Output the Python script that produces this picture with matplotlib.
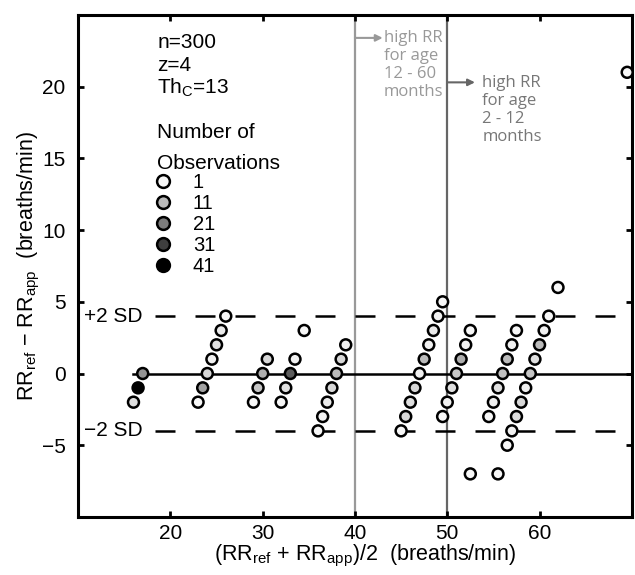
import matplotlib
matplotlib.use("Agg")
import matplotlib.pyplot as plt
import numpy as np
from matplotlib.lines import Line2D

plt.rcParams['font.family'] = ['Liberation Sans', 'DejaVu Sans']

# mean of the two rates, difference, number of observations at each point
x_mean = [16, 16.5, 17,
          23, 23.5, 24, 24.5, 25, 25.5, 26,
          29, 29.5, 30, 30.5,
          32, 32.5, 33, 33.5, 34.5,
          36, 36.5, 37, 37.5, 38, 38.5, 39,
          45, 45.5, 46, 46.5, 47, 47.5, 48, 48.5, 49, 49.5,
          49.5, 50, 50.5, 51, 51.5, 52, 52.5,
          54.5, 55, 55.5, 56, 56.5, 57, 57.5,
          52.5, 55.5, 56.5, 57, 57.5, 58, 58.5, 59, 59.5, 60, 60.5, 61,
          62, 69.5]
y_diff = [-2, -1, 0,
          -2, -1, 0, 1, 2, 3, 4,
          -2, -1, 0, 1,
          -2, -1, 0, 1, 3,
          -4, -3, -2, -1, 0, 1, 2,
          -4, -3, -2, -1, 0, 1, 2, 3, 4, 5,
          -3, -2, -1, 0, 1, 2, 3,
          -3, -2, -1, 0, 1, 2, 3,
          -7, -7, -5, -4, -3, -2, -1, 0, 1, 2, 3, 4,
          6, 21]
n_obs = [5, 41, 17,
         1, 15, 6, 2, 5, 3, 1,
         1, 9, 13, 6,
         1, 5, 26, 2, 1,
         1, 2, 3, 6, 11, 6, 2,
         1, 6, 5, 6, 2, 11, 2, 3, 2, 1,
         1, 2, 5, 9, 13, 2, 1,
         1, 2, 5, 10, 11, 2, 1,
         1, 1, 1, 2, 5, 6, 2, 9, 5, 11, 2, 1,
         1, 1]

legend_counts = [1, 11, 21, 31, 41]
sd_limits = [4, -4]
sd_labels = ["+2 SD", "\u22122 SD"]
age_lines = [40, 50]


def face(n):
    g = 0.97 * (1 - (min(n, 41) - 1) / 40.0)
    return (g, g, g)


fig = plt.figure(figsize=(6.35, 5.75), dpi=100)
ax = fig.add_axes([0.123, 0.101, 0.872, 0.873])
ax.set_xlim(10, 70)
ax.set_ylim(-10, 25)

# reference lines
ax.axvline(age_lines[0], color="#999999", lw=1.6, zorder=1)
ax.axvline(age_lines[1], color="#666666", lw=1.6, zorder=1)
ax.plot([min(x_mean), 70], [0, 0], color="black", lw=1.8, zorder=2)
for lim, lab in zip(sd_limits, sd_labels):
    ax.plot([18.3, 70], [lim, lim], color="black", lw=1.8,
            linestyle=(0, (8, 8)), zorder=2)
    ax.text(10.6, lim, lab, fontsize=15, va="center", ha="left")

ax.scatter(x_mean, y_diff, s=62, c=[face(n) for n in n_obs],
           edgecolors="black", linewidths=1.8, zorder=3, clip_on=False)

# annotations for the age-specific high RR limits
ax.annotate("", xy=(43.0, 23.4), xytext=(40, 23.4),
            arrowprops=dict(arrowstyle="-|>", color="#999999", lw=1.5,
                            shrinkA=0, shrinkB=0))
ax.text(43.1, 23.97, "high RR\nfor age\n12 - 60\nmonths", color="#999999",
        fontsize=12, va="top", ha="left", family="Open Sans",
        linespacing=1.17)
ax.annotate("", xy=(53.0, 20.3), xytext=(50, 20.3),
            arrowprops=dict(arrowstyle="-|>", color="#666666", lw=1.5,
                            shrinkA=0, shrinkB=0))
ax.text(53.8, 20.8, "high RR\nfor age\n2 - 12\nmonths", color="#777777",
        fontsize=12, va="top", ha="left", family="Open Sans",
        linespacing=1.17)

# info text
ax.text(0.1426, 0.946, "n=300", transform=ax.transAxes, fontsize=15, va="center")
ax.text(0.1426, 0.900, "z=4", transform=ax.transAxes, fontsize=15, va="center")
ax.text(0.1426, 0.855, "Th$_\\mathregular{C}$=13", transform=ax.transAxes,
        fontsize=15, va="center")
ax.text(0.1426, 0.735, "Number of\nObservations", transform=ax.transAxes,
        fontsize=15, va="center", linespacing=1.75)

handles = [Line2D([], [], marker="o", linestyle="none", markersize=9.2,
                  markerfacecolor=face(n), markeredgecolor="black",
                  markeredgewidth=1.8) for n in legend_counts]
leg = ax.legend(handles, [str(n) for n in legend_counts],
                loc="upper left", bbox_to_anchor=(0.1347, 0.686),
                frameon=False, fontsize=14.5, labelspacing=0.1,
                handletextpad=1.0, handlelength=1.0, borderpad=0,
                borderaxespad=0)

ax.set_xticks([20, 30, 40, 50, 60])
ax.set_yticks([-5, 0, 5, 10, 15, 20])
ax.tick_params(direction="in", length=4, width=2, labelsize=15,
               top=True, right=True)
ax.tick_params(axis="y", pad=9)
ax.tick_params(axis="x", pad=5)
for sp in ax.spines.values():
    sp.set_linewidth(2.2)

ax.set_xlabel("(RR$_\\mathregular{ref}$ + RR$_\\mathregular{app}$)/2  (breaths/min)",
              fontsize=15.5, labelpad=0)
ax.xaxis.set_label_coords(0.518, -0.052)
ax.set_ylabel("RR$_\\mathregular{ref}$ \u2212 RR$_\\mathregular{app}$  (breaths/min)",
              fontsize=15.5, labelpad=0)

fig.savefig("out.png", dpi=100)
